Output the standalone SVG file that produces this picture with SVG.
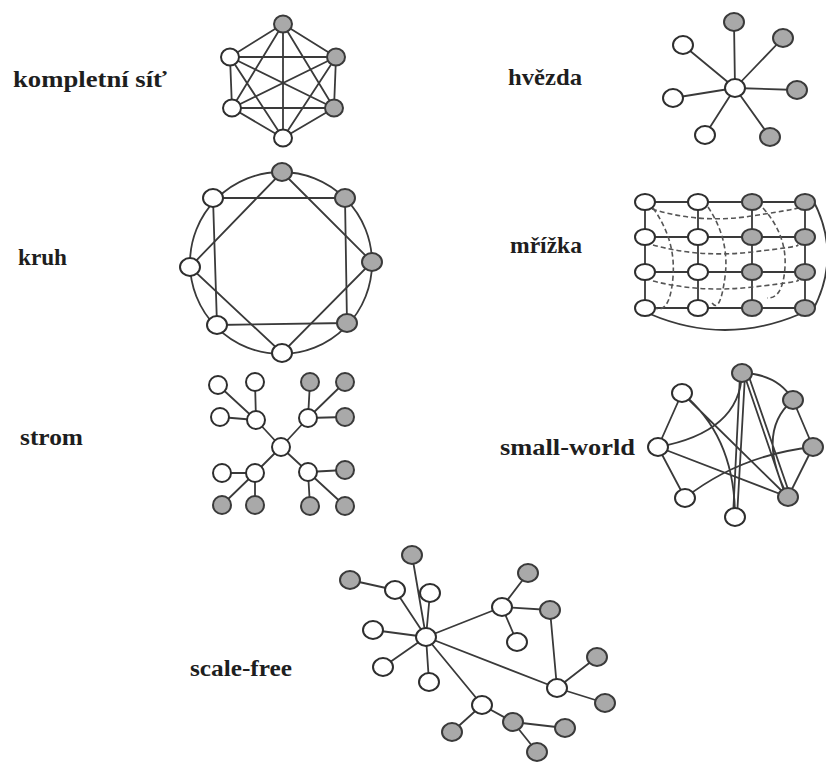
<svg xmlns="http://www.w3.org/2000/svg" width="826" height="762" viewBox="0 0 826 762">
<style>
.e{stroke:#3a3a3a;stroke-width:1.8;fill:none}
.d{stroke:#555;stroke-width:1.6;fill:none;stroke-dasharray:5 3}
.w{fill:#fff;stroke:#2e2e2e;stroke-width:2}
.g{fill:#a9a9a9;stroke:#3a3a3a;stroke-width:2}
.lbl{font-family:"Liberation Serif","Times New Roman",serif;font-size:24px;font-weight:bold;fill:#1e1e1e}
</style>
<rect width="826" height="762" fill="#fff"/>
<g id="labels">
<text class="lbl" x="13" y="87" textLength="154" lengthAdjust="spacingAndGlyphs">kompletní síť</text>
<text class="lbl" x="508" y="85" textLength="74" lengthAdjust="spacingAndGlyphs">hvězda</text>
<text class="lbl" x="18" y="265" textLength="49" lengthAdjust="spacingAndGlyphs">kruh</text>
<text class="lbl" x="510" y="253" textLength="72" lengthAdjust="spacingAndGlyphs">mřížka</text>
<text class="lbl" x="20" y="445" textLength="63" lengthAdjust="spacingAndGlyphs">strom</text>
<text class="lbl" x="500" y="455" textLength="135" lengthAdjust="spacingAndGlyphs">small-world</text>
<text class="lbl" x="190" y="676" textLength="102" lengthAdjust="spacingAndGlyphs">scale-free</text>
</g>
<g id="connectors">
<!-- complete -->
<path class="e" d="M283,24L230,57M283,24L336,57M283,24L232,108M283,24L334,108M283,24L283,138M230,57L336,57M230,57L232,108M230,57L334,108M230,57L283,138M336,57L232,108M336,57L334,108M336,57L283,138M232,108L334,108M232,108L283,138M334,108L283,138"/>
<!-- star -->
<path class="e" d="M735,88L734,22M735,88L783,38M735,88L797,90M735,88L770,137M735,88L705,135M735,88L673,98M735,88L683,45"/>
<!-- ring -->
<circle class="e" cx="281" cy="263" r="91"/>
<path class="e" d="M213,198L345,198L347,323L217,325Z"/>
<path class="e" d="M282,172L372,262L282,353L190,267Z"/>
<!-- lattice -->
<path class="e" d="M645,202H805M645,237H805M645,272H805M645,308H805M645,202V308M698,202V308M752,202V308M805,202V308"/>
<path class="e" d="M813,200Q842,255 813,310M650,314Q725,346 800,314"/>
<path class="d" d="M652,209Q700,224 752,216T800,207M653,245Q700,258 752,252T797,245M653,281Q700,293 753,287T797,280"/>
<path class="d" d="M653,208Q676,240 673,277T655,308M708,207Q730,240 725,277T712,303M763,208Q787,235 785,267T767,298"/>
<!-- tree -->
<path class="e" d="M281,447L256,420M281,447L308,418M281,447L255,473M281,447L308,472M256,420L218,385M256,420L255,382M256,420L220,417M308,418L310,382M308,418L345,382M308,418L345,417M255,473L222,473M255,473L222,505M255,473L255,505M308,472L345,470M308,472L310,506M308,472L345,506"/>
<!-- small-world -->
<path class="e" d="M682,393L658,447M658,447L685,498M742,373Q778,374 793,400M793,400L813,447M813,447L788,497"/>
<path class="e" d="M682,393C715,420 735,460 735,517M682,393L788,497M658,447Q740,432 742,373M658,447L788,497M685,498Q740,455 813,447"/>
<path class="e" d="M740,375L733,517M745,375L737,517M744,374L786,497M748,374L790,495M793,400Q755,432 788,497"/>
<!-- scale-free -->
<path class="e" d="M426,637L412,555M350,580L395,590M395,590L426,637M426,637L430,593M426,637L373,630M426,637L383,667M426,637L429,682M426,637L502,607M426,637L557,688M426,637L482,705M502,607L528,573M502,607L550,610M502,607L517,642M550,610L557,688M557,688L597,657M557,688L605,703M482,705L452,732M482,705L513,722M513,722L565,728M513,722L537,752"/>
</g>
<g id="complete-nodes">
<ellipse id="c1" class="g" cx="283" cy="24" rx="9" ry="8.5"/>
<ellipse id="c2" class="w" cx="230" cy="57" rx="9" ry="8.5"/>
<ellipse id="c3" class="g" cx="336" cy="57" rx="9" ry="8.5"/>
<ellipse id="c4" class="w" cx="232" cy="108" rx="9" ry="8.5"/>
<ellipse id="c5" class="g" cx="334" cy="108" rx="9" ry="8.5"/>
<ellipse id="c6" class="w" cx="283" cy="138" rx="9" ry="8.5"/>
</g>
<g id="star-nodes">
<ellipse id="s0" class="w" cx="735" cy="88" rx="10" ry="9"/>
<ellipse id="s1" class="g" cx="734" cy="22" rx="10" ry="9"/>
<ellipse id="s2" class="g" cx="783" cy="38" rx="10" ry="9"/>
<ellipse id="s3" class="g" cx="797" cy="90" rx="10" ry="9"/>
<ellipse id="s4" class="g" cx="770" cy="137" rx="10" ry="9"/>
<ellipse id="s5" class="w" cx="705" cy="135" rx="10" ry="9"/>
<ellipse id="s6" class="w" cx="673" cy="98" rx="10" ry="9"/>
<ellipse id="s7" class="w" cx="683" cy="45" rx="10" ry="9"/>
</g>
<g id="ring-nodes">
<ellipse id="r1" class="g" cx="282" cy="172" rx="10" ry="9"/>
<ellipse id="r2" class="g" cx="345" cy="198" rx="10" ry="9"/>
<ellipse id="r3" class="g" cx="372" cy="262" rx="10" ry="9"/>
<ellipse id="r4" class="g" cx="347" cy="323" rx="10" ry="9"/>
<ellipse id="r5" class="w" cx="282" cy="353" rx="10" ry="9"/>
<ellipse id="r6" class="w" cx="217" cy="325" rx="10" ry="9"/>
<ellipse id="r7" class="w" cx="190" cy="267" rx="10" ry="9"/>
<ellipse id="r8" class="w" cx="213" cy="198" rx="10" ry="9"/>
</g>
<g id="lattice-nodes">
<ellipse id="m11" class="w" cx="645" cy="202" rx="10" ry="8"/>
<ellipse id="m12" class="w" cx="698" cy="202" rx="10" ry="8"/>
<ellipse id="m13" class="g" cx="752" cy="202" rx="10" ry="8"/>
<ellipse id="m14" class="g" cx="805" cy="202" rx="10" ry="8"/>
<ellipse id="m21" class="w" cx="645" cy="237" rx="10" ry="8"/>
<ellipse id="m22" class="w" cx="698" cy="237" rx="10" ry="8"/>
<ellipse id="m23" class="g" cx="752" cy="237" rx="10" ry="8"/>
<ellipse id="m24" class="g" cx="805" cy="237" rx="10" ry="8"/>
<ellipse id="m31" class="w" cx="645" cy="272" rx="10" ry="8"/>
<ellipse id="m32" class="w" cx="698" cy="272" rx="10" ry="8"/>
<ellipse id="m33" class="g" cx="752" cy="272" rx="10" ry="8"/>
<ellipse id="m34" class="g" cx="805" cy="272" rx="10" ry="8"/>
<ellipse id="m41" class="w" cx="645" cy="308" rx="10" ry="8"/>
<ellipse id="m42" class="w" cx="698" cy="308" rx="10" ry="8"/>
<ellipse id="m43" class="g" cx="752" cy="308" rx="10" ry="8"/>
<ellipse id="m44" class="g" cx="805" cy="308" rx="10" ry="8"/>
</g>
<g id="tree-nodes">
<ellipse id="t0" class="w" cx="281" cy="447" rx="9" ry="9"/>
<ellipse id="t1" class="w" cx="256" cy="420" rx="9" ry="9"/>
<ellipse id="t2" class="w" cx="308" cy="418" rx="9" ry="9"/>
<ellipse id="t3" class="w" cx="255" cy="473" rx="9" ry="9"/>
<ellipse id="t4" class="w" cx="308" cy="472" rx="9" ry="9"/>
<ellipse id="t5" class="w" cx="218" cy="385" rx="9" ry="9"/>
<ellipse id="t6" class="w" cx="255" cy="382" rx="9" ry="9"/>
<ellipse id="t7" class="w" cx="220" cy="417" rx="9" ry="9"/>
<ellipse id="t8" class="g" cx="310" cy="382" rx="9" ry="9"/>
<ellipse id="t9" class="g" cx="345" cy="382" rx="9" ry="9"/>
<ellipse id="t10" class="g" cx="345" cy="417" rx="9" ry="9"/>
<ellipse id="t11" class="w" cx="222" cy="473" rx="9" ry="9"/>
<ellipse id="t12" class="g" cx="222" cy="505" rx="9" ry="9"/>
<ellipse id="t13" class="g" cx="255" cy="505" rx="9" ry="9"/>
<ellipse id="t14" class="g" cx="345" cy="470" rx="9" ry="9"/>
<ellipse id="t15" class="g" cx="310" cy="506" rx="9" ry="9"/>
<ellipse id="t16" class="g" cx="345" cy="506" rx="9" ry="9"/>
</g>
<g id="smallworld-nodes">
<ellipse id="w1" class="g" cx="742" cy="373" rx="10" ry="9"/>
<ellipse id="w2" class="g" cx="793" cy="400" rx="10" ry="9"/>
<ellipse id="w3" class="g" cx="813" cy="447" rx="10" ry="9"/>
<ellipse id="w4" class="g" cx="788" cy="497" rx="10" ry="9"/>
<ellipse id="w5" class="w" cx="735" cy="517" rx="10" ry="9"/>
<ellipse id="w6" class="w" cx="685" cy="498" rx="10" ry="9"/>
<ellipse id="w7" class="w" cx="658" cy="447" rx="10" ry="9"/>
<ellipse id="w8" class="w" cx="682" cy="393" rx="10" ry="9"/>
</g>
<g id="scalefree-nodes">
<ellipse id="f0" class="w" cx="426" cy="637" rx="10" ry="9"/>
<ellipse id="f1" class="g" cx="412" cy="555" rx="10" ry="9"/>
<ellipse id="f2" class="g" cx="350" cy="580" rx="10" ry="9"/>
<ellipse id="f3" class="w" cx="395" cy="590" rx="10" ry="9"/>
<ellipse id="f4" class="w" cx="430" cy="593" rx="10" ry="9"/>
<ellipse id="f5" class="w" cx="373" cy="630" rx="10" ry="9"/>
<ellipse id="f6" class="w" cx="383" cy="667" rx="10" ry="9"/>
<ellipse id="f7" class="w" cx="429" cy="682" rx="10" ry="9"/>
<ellipse id="f8" class="w" cx="502" cy="607" rx="10" ry="9"/>
<ellipse id="f9" class="g" cx="528" cy="573" rx="10" ry="9"/>
<ellipse id="f10" class="g" cx="550" cy="610" rx="10" ry="9"/>
<ellipse id="f11" class="w" cx="517" cy="642" rx="10" ry="9"/>
<ellipse id="f12" class="w" cx="557" cy="688" rx="10" ry="9"/>
<ellipse id="f13" class="g" cx="597" cy="657" rx="10" ry="9"/>
<ellipse id="f14" class="g" cx="605" cy="703" rx="10" ry="9"/>
<ellipse id="f15" class="w" cx="482" cy="705" rx="10" ry="9"/>
<ellipse id="f16" class="g" cx="452" cy="732" rx="10" ry="9"/>
<ellipse id="f17" class="g" cx="513" cy="722" rx="10" ry="9"/>
<ellipse id="f18" class="g" cx="565" cy="728" rx="10" ry="9"/>
<ellipse id="f19" class="g" cx="537" cy="752" rx="10" ry="9"/>
</g>
</svg>
